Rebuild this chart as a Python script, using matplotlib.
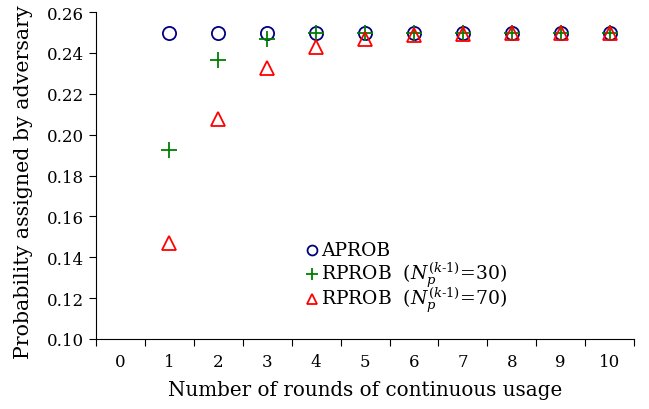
import matplotlib
matplotlib.use('Agg')
import matplotlib.pyplot as plt

rounds = [1, 2, 3, 4, 5, 6, 7, 8, 9, 10]
aprob = [0.25, 0.25, 0.25, 0.25, 0.25, 0.25, 0.25, 0.25, 0.25, 0.25]
rprob30 = [0.1925, 0.2368, 0.2468, 0.2496, 0.2499, 0.25, 0.25, 0.25, 0.25, 0.25]
rprob70 = [0.147, 0.2077, 0.2326, 0.2430, 0.2470, 0.2487, 0.2494, 0.2497, 0.2499, 0.25]
xticklabels = ['0', '1', '2', '3', '4', '5', '6', '7', '8', '9', '10']

series = [
    (aprob, 'APROB', 'o', '#000080', 9.5),
    (rprob30, r'RPROB  ($N_p^{(k\text{-}1)}$=30)', '+', '#008000', 11),
    (rprob70, r'RPROB  ($N_p^{(k\text{-}1)}$=70)', '^', '#ff0000', 9.5),
]

plt.rcParams['font.family'] = 'DejaVu Serif'
plt.rcParams['mathtext.fontset'] = 'dejavuserif'

fig = plt.figure(figsize=(6.49, 4.10), dpi=100)
ax = fig.add_axes([0.148, 0.171, 0.829, 0.797])

for vals, label, mk, col, ms in series:
    ax.plot(rounds, vals, linestyle='none', marker=mk, markersize=ms,
            markerfacecolor='none', markeredgecolor=col, markeredgewidth=1.3)

# legend drawn by hand so rows stay evenly spaced
leg_y = [0.257, 0.1835, 0.106]
for (vals, label, mk, col, ms), y in zip(series, leg_y):
    ax.plot([0.4015], [y + 0.016], transform=ax.transAxes, linestyle='none',
            marker=mk, markersize=ms * 0.75, markerfacecolor='none',
            markeredgecolor=col, markeredgewidth=1.3, clip_on=False)
    ax.text(0.418, y, label, transform=ax.transAxes, fontsize=13.5,
            va='baseline', ha='left')

ax.set_xlim(-0.5, 10.5)
ax.set_ylim(0.10, 0.26)
ax.set_yticks([0.10, 0.12, 0.14, 0.16, 0.18, 0.20, 0.22, 0.24, 0.26])
ax.set_yticklabels(['%.2f' % v for v in ax.get_yticks()])
ax.set_xticks([i - 0.5 for i in range(12)])
ax.set_xticklabels([])
ax.set_xticks(range(11), minor=True)
ax.set_xticklabels(xticklabels, minor=True)
ax.tick_params(axis='x', which='minor', length=0, pad=10, labelsize=12)
ax.tick_params(axis='x', which='major', direction='out', length=5)
ax.tick_params(axis='y', direction='out', length=5, labelsize=12)

for s in ['top', 'right']:
    ax.spines[s].set_visible(False)

ax.set_xlabel('Number of rounds of continuous usage', fontsize=14.3)
ax.xaxis.set_label_coords(0.5, -0.125)
ax.set_ylabel('Probability assigned by adversary', fontsize=14.8)
ax.yaxis.set_label_coords(-0.118, 0.483)

fig.savefig('out.png', dpi=100)
